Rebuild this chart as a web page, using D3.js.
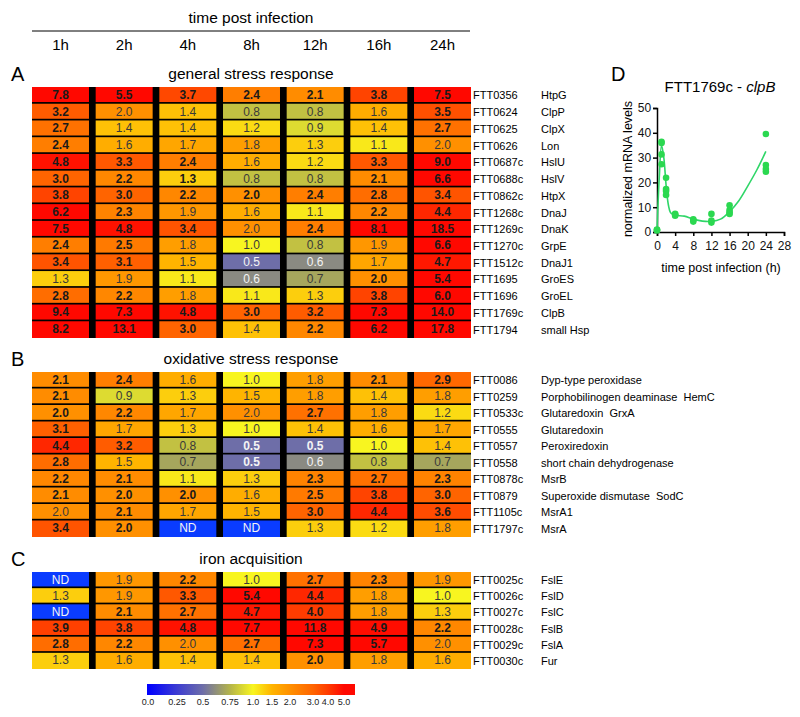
<!DOCTYPE html>
<html>
<head>
<meta charset="utf-8">
<script src="https://cdn.jsdelivr.net/npm/d3@7"></script>
<style>
  body { margin: 0; background: #fff; }
  svg { font-family: "Liberation Sans", Arial, sans-serif; }
</style>
</head>
<body>
<div id="chart"></div>
<script>
// heatmap data: fold change per time point, bold = significant
const times = ["1h", "2h", "4h", "8h", "12h", "16h", "24h"];

const genesA = ["FTT0356", "FTT0624", "FTT0625", "FTT0626", "FTT0687c", "FTT0688c", "FTT0862c", "FTT1268c",
    "FTT1269c", "FTT1270c", "FTT1512c", "FTT1695", "FTT1696", "FTT1769c", "FTT1794"];
const namesA = ["HtpG", "ClpP", "ClpX", "Lon", "HslU", "HslV", "HtpX", "DnaJ", "DnaK", "GrpE", "DnaJ1",
    "GroES", "GroEL", "ClpB", "small Hsp"];
const valuesA = [
    [7.8, 5.5, 3.7, 2.4, 2.1, 3.8, 7.5],
    [3.2, 2.0, 1.4, 0.8, 0.8, 1.6, 3.5],
    [2.7, 1.4, 1.4, 1.2, 0.9, 1.4, 2.7],
    [2.4, 1.6, 1.7, 1.8, 1.3, 1.1, 2.0],
    [4.8, 3.3, 2.4, 1.6, 1.2, 3.3, 9.0],
    [3.0, 2.2, 1.3, 0.8, 0.8, 2.1, 6.6],
    [3.8, 3.0, 2.2, 2.0, 2.4, 2.8, 3.4],
    [6.2, 2.3, 1.9, 1.6, 1.1, 2.2, 4.4],
    [7.5, 4.8, 3.4, 2.0, 2.4, 8.1, 18.5],
    [2.4, 2.5, 1.8, 1.0, 0.8, 1.9, 6.6],
    [3.4, 3.1, 1.5, 0.5, 0.6, 1.7, 4.7],
    [1.3, 1.9, 1.1, 0.6, 0.7, 2.0, 5.4],
    [2.8, 2.2, 1.8, 1.1, 1.3, 3.8, 6.0],
    [9.4, 7.3, 4.8, 3.0, 3.2, 7.3, 14.0],
    [8.2, 13.1, 3.0, 1.4, 2.2, 6.2, 17.8]
];
const boldA = ["1111111", "1000001", "1000001", "1000000", "1110011", "1110011", "1111111", "1100011",
    "1110111", "1100001", "1100001", "0000011", "1100011", "1111111", "1110111"];

const genesB = ["FTT0086", "FTT0259", "FTT0533c", "FTT0555", "FTT0557", "FTT0558", "FTT0878c", "FTT0879",
    "FTT1105c", "FTT1797c"];
const namesB = ["Dyp-type peroxidase", "Porphobilinogen deaminase\u00a0\u00a0HemC", "Glutaredoxin\u00a0\u00a0GrxA",
    "Glutaredoxin", "Peroxiredoxin", "short chain dehydrogenase", "MsrB", "Superoxide dismutase\u00a0\u00a0SodC",
    "MsrA1", "MsrA"];
const valuesB = [
    [2.1, 2.4, 1.6, 1.0, 1.8, 2.1, 2.9],
    [2.1, 0.9, 1.3, 1.5, 1.8, 1.4, 1.8],
    [2.0, 2.2, 1.7, 2.0, 2.7, 1.8, 1.2],
    [3.1, 1.7, 1.3, 1.0, 1.4, 1.6, 1.7],
    [4.4, 3.2, 0.8, 0.5, 0.5, 1.0, 1.4],
    [2.8, 1.5, 0.7, 0.5, 0.6, 0.8, 0.7],
    [2.2, 2.1, 1.1, 1.3, 2.3, 2.7, 2.3],
    [2.1, 2.0, 2.0, 1.6, 2.5, 3.8, 3.0],
    [2.0, 2.1, 1.7, 1.5, 3.0, 4.4, 3.6],
    [3.4, 2.0, null, null, 1.3, 1.2, 1.8]
];
const boldB = ["1100011", "1000000", "1100100", "1000000", "1101100", "1001000", "1100111", "1110111",
    "0100111", "1100000"];

const genesC = ["FTT0025c", "FTT0026c", "FTT0027c", "FTT0028c", "FTT0029c", "FTT0030c"];
const namesC = ["FslE", "FslD", "FslC", "FslB", "FslA", "Fur"];
const valuesC = [
    [null, 1.9, 2.2, 1.0, 2.7, 2.3, 1.9],
    [1.3, 1.9, 3.3, 5.4, 4.4, 1.8, 1.0],
    [null, 2.1, 2.7, 4.7, 4.0, 1.8, 1.3],
    [3.9, 3.8, 4.8, 7.7, 11.8, 4.9, 2.2],
    [2.8, 2.2, 2.0, 2.7, 7.3, 5.7, 2.0],
    [1.3, 1.6, 1.4, 1.4, 2.0, 1.8, 1.6]
];
const boldC = ["0010110", "0011100", "0111100", "1111111", "1101110", "0000100"];

// colour key
const colorTicks = [0, 0.25, 0.5, 0.75, 1.0, 1.5, 2.0, 3.0, 4.0, 5.0];
const colorTickLabels = ["0.0", "0.25", "0.5", "0.75", "1.0", "1.5", "2.0", "3.0", "4.0", "5.0"];
const colorRange = ["#0000ff", "#3c3cd2", "#6e6ea8", "#b4b44a", "#f8f520", "#ffb400", "#ff9000",
    "#ff6400", "#ff3c00", "#ff0800"];

// panel D: clpB qRT-PCR
const dTimes = [0, 0, 0, 1, 1, 1, 1, 2, 2, 2, 2, 4, 4, 4, 8, 8, 8, 12, 12, 12, 16, 16, 16, 16, 24, 24, 24, 24];
const dValues = [0.8, 1.0, 0.6, 36.4, 35.9, 31.3, 27.3, 21.9, 17.3, 16.5, 14.9, 7.3, 7.0, 6.6, 5.1, 4.8, 4.2,
    7.3, 4.6, 3.8, 10.8, 8.9, 7.9, 7.3, 39.5, 27.0, 25.4, 24.3];
const fitTimes = [0, 0.5, 1, 1.5, 2, 2.5, 3, 4, 6, 8, 10, 12, 14, 16, 18, 20, 22, 24];
const fitValues = [0.5, 22, 35, 30, 19, 11, 7.8, 6.8, 6.4, 5.2, 4.4, 4.3, 5.2, 8.2, 12.5, 18.5, 25, 32.5];

const width = 800, height = 717;

const svg = d3.select("#chart")
    .append("svg")
    .attr("width", width)
    .attr("height", height);

const color = d3.scaleLinear().domain(colorTicks).range(colorRange).clamp(true);

const x = d3.scaleBand()
    .domain(times)
    .range([32, 471])
    .paddingInner(0.105);

// header
svg.append("text")
    .attr("x", 251).attr("y", 23)
    .attr("text-anchor", "middle")
    .attr("font-size", 15.5)
    .text("time post infection");

svg.append("line")
    .attr("x1", 32).attr("x2", 470)
    .attr("y1", 31).attr("y2", 31)
    .attr("stroke", "#000").attr("stroke-width", 1);

svg.selectAll(".colLabel")
    .data(times)
    .enter()
    .append("text")
    .attr("class", "colLabel")
    .attr("x", d => x(d) + x.bandwidth() / 2)
    .attr("y", 50)
    .attr("text-anchor", "middle")
    .attr("font-size", 15)
    .text(d => d);

function drawSection(letter, title, genes, names, values, bold, top, bottom, titleY) {
    const y = d3.scaleBand()
        .domain(genes)
        .range([top, bottom]);
    const g = svg.append("g");

    g.append("text")
        .attr("x", 11).attr("y", titleY + 2)
        .attr("font-size", 20)
        .text(letter);

    g.append("text")
        .attr("x", 251).attr("y", titleY)
        .attr("text-anchor", "middle")
        .attr("font-size", 15.5)
        .text(title);

    // black grid behind the cells
    g.append("rect")
        .attr("x", x.range()[0])
        .attr("y", top)
        .attr("width", x.range()[1] - x.range()[0])
        .attr("height", bottom - top)
        .attr("fill", "#000");

    const cells = [];
    genes.forEach((gene, i) => {
        values[i].forEach((v, j) => {
            cells.push({ gene: gene, time: times[j], value: v, bold: bold[i][j] === "1", last: i === genes.length - 1 });
        });
    });

    g.selectAll("rect.cell")
        .data(cells)
        .enter()
        .append("rect")
        .attr("class", "cell")
        .attr("x", d => x(d.time))
        .attr("y", d => y(d.gene))
        .attr("width", x.bandwidth())
        .attr("height", d => d.last ? y.bandwidth() : y.bandwidth() - 1.7)
        .attr("fill", d => d.value === null ? "#0a3cff" : color(d.value));

    g.selectAll("text.val")
        .data(cells)
        .enter()
        .append("text")
        .attr("class", "val")
        .attr("x", d => x(d.time) + x.bandwidth() / 2)
        .attr("y", d => y(d.gene) + y.bandwidth() / 2 + 3.5)
        .attr("text-anchor", "middle")
        .attr("font-size", 12)
        .attr("font-weight", d => d.bold ? "bold" : "normal")
        .attr("fill", d => (d.value === null || d.value <= 0.6) ? "#f4f4f4" : (d.bold ? "#1a1a1a" : "#3a3a3a"))
        .text(d => d.value === null ? "ND" : d.value.toFixed(1));

    g.selectAll("text.gene")
        .data(genes)
        .enter()
        .append("text")
        .attr("class", "gene")
        .attr("x", 473)
        .attr("y", d => y(d) + y.bandwidth() / 2 + 4)
        .attr("font-size", 11)
        .text(d => d);

    g.selectAll("text.name")
        .data(names)
        .enter()
        .append("text")
        .attr("class", "name")
        .attr("x", 541)
        .attr("y", (d, i) => y(genes[i]) + y.bandwidth() / 2 + 4)
        .attr("font-size", 11)
        .text(d => d);
}

drawSection("A", "general stress response", genesA, namesA, valuesA, boldA, 87, 338, 79);
drawSection("B", "oxidative stress response", genesB, namesB, valuesB, boldB, 372, 537, 364);
drawSection("C", "iron acquisition", genesC, namesC, valuesC, boldC, 572, 669, 564);

// colour key bar
const cbX = d3.scaleLinear()
    .domain(colorTicks)
    .range([148, 177, 203, 230, 253, 272, 290, 313, 328, 344]);
const barLeft = 147, barRight = 355;

const grad = svg.append("defs")
    .append("linearGradient")
    .attr("id", "cbGrad")
    .attr("x1", "0%").attr("x2", "100%");

grad.selectAll("stop")
    .data(colorTicks)
    .enter()
    .append("stop")
    .attr("offset", d => ((cbX(d) - barLeft) / (barRight - barLeft) * 100) + "%")
    .attr("stop-color", d => color(d));

svg.append("rect")
    .attr("x", barLeft).attr("y", 684)
    .attr("width", barRight - barLeft).attr("height", 11)
    .attr("fill", "url(#cbGrad)");

svg.selectAll(".cbLabel")
    .data(colorTicks)
    .enter()
    .append("text")
    .attr("class", "cbLabel")
    .attr("x", d => cbX(d))
    .attr("y", 705)
    .attr("text-anchor", "middle")
    .attr("font-size", 9)
    .attr("fill", "#222")
    .text((d, i) => colorTickLabels[i]);

// panel D
const dx = d3.scaleLinear().domain([0, 28]).range([657, 784]);
const dy = d3.scaleLinear().domain([0, 50]).range([232, 108]);

svg.append("text")
    .attr("x", 611).attr("y", 81)
    .attr("font-size", 20)
    .text("D");

const dTitle = svg.append("text")
    .attr("x", 720).attr("y", 92)
    .attr("text-anchor", "middle")
    .attr("font-size", 15);
dTitle.append("tspan").text("FTT1769c - ");
dTitle.append("tspan").attr("font-style", "italic").text("clpB");

const xAxis = svg.append("g")
    .attr("transform", `translate(0, ${dy(0)})`)
    .call(d3.axisBottom(dx).tickValues(d3.range(0, 29, 4)).tickSizeOuter(0).tickSize(4));

const yAxis = svg.append("g")
    .attr("transform", `translate(${dx(0)}, 0)`)
    .call(d3.axisLeft(dy).ticks(5).tickSizeOuter(0).tickSize(4));

[xAxis, yAxis].forEach(a => {
    a.select(".domain").attr("stroke-width", 1.5);
    a.selectAll(".tick line").attr("stroke-width", 1.5);
    a.selectAll(".tick text")
        .attr("font-size", 12)
        .attr("font-family", "'Liberation Sans', Arial, sans-serif")
        .attr("fill", "#111");
});
xAxis.selectAll(".tick text").attr("dy", "0.9em");
yAxis.selectAll(".tick text").attr("dx", "0.1em");

svg.append("text")
    .attr("x", 721).attr("y", 272)
    .attr("text-anchor", "middle")
    .attr("font-size", 12.5)
    .text("time post infection (h)");

svg.append("text")
    .attr("transform", `translate(632, 169) rotate(-90)`)
    .attr("text-anchor", "middle")
    .attr("font-size", 12.5)
    .text("normalized mRNA levels");

const line = d3.line()
    .x((d, i) => dx(fitTimes[i]))
    .y(d => dy(d))
    .curve(d3.curveCatmullRom);

svg.append("path")
    .datum(fitValues)
    .attr("d", line)
    .attr("fill", "none")
    .attr("stroke", "#2fd668")
    .attr("stroke-width", 1.6);

svg.selectAll(".pt")
    .data(dValues)
    .enter()
    .append("circle")
    .attr("class", "pt")
    .attr("cx", (d, i) => dx(dTimes[i]))
    .attr("cy", d => dy(d))
    .attr("r", 3.3)
    .attr("fill", "#2bd850");
</script>
</body>
</html>
